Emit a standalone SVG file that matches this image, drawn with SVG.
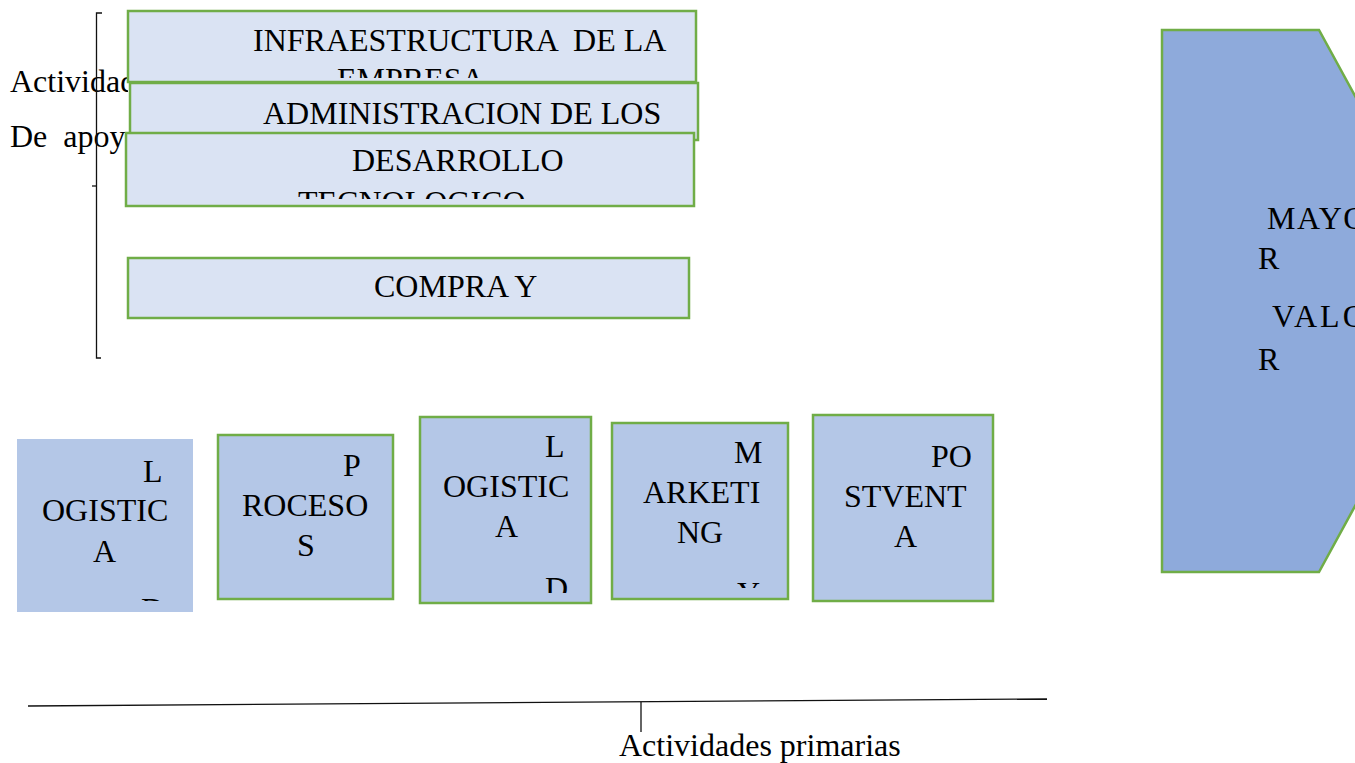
<svg xmlns="http://www.w3.org/2000/svg" width="1355" height="763" viewBox="0 0 1355 763">
<defs>
<style>
text{font-family:"Liberation Serif","Times New Roman",serif;font-size:32px;fill:#000;white-space:pre}
.sup{fill:#dae3f3;stroke:#70ad47;stroke-width:2.5}
.pri{fill:#b4c7e7;stroke:#70ad47;stroke-width:2.5}
.ln{stroke:#111;stroke-width:1.3;fill:none}
</style>
<clipPath id="cAct" clipPathUnits="userSpaceOnUse"><rect x="0" y="60" width="128" height="100"/></clipPath>
<clipPath id="c1" clipPathUnits="userSpaceOnUse"><rect x="128" y="11" width="568" height="67"/></clipPath>
<clipPath id="c3" clipPathUnits="userSpaceOnUse"><rect x="126" y="133" width="568" height="66"/></clipPath>
<clipPath id="cA" clipPathUnits="userSpaceOnUse"><rect x="17" y="439" width="176" height="162"/></clipPath>
<clipPath id="cC" clipPathUnits="userSpaceOnUse"><rect x="420" y="417" width="170" height="176"/></clipPath>
<clipPath id="cD" clipPathUnits="userSpaceOnUse"><rect x="612" y="423" width="176" height="165"/></clipPath>
</defs>
<rect x="0" y="0" width="1355" height="763" fill="#ffffff"/>

<g id="label-apoyo">
<text x="10" y="92" clip-path="url(#cAct)">Actividad</text>
<text x="10" y="147">De  apoy</text>
</g>

<g id="connectors">
<path class="ln" d="M102,13 H96.5 V358 H101"/>
<path class="ln" d="M96.5,186 H92"/>
<path class="ln" d="M28,706 L1047,699"/>
<path class="ln" d="M641,702 V732"/>
</g>

<g id="infraestructura">
<rect class="sup" x="128" y="11" width="568" height="71"/>
<g clip-path="url(#c1)">
<text x="253" y="51">INFRAESTRUCTURA  DE LA</text>
<text x="337" y="90">EMPRESA</text>
</g>
</g>

<g id="administracion">
<rect class="sup" x="130" y="83" width="568" height="57"/>
<text x="263" y="124">ADMINISTRACION DE LOS</text>
</g>

<g id="desarrollo">
<rect class="sup" x="126" y="133" width="568" height="73"/>
<g clip-path="url(#c3)">
<text x="352" y="171">DESARROLLO</text>
<text x="298" y="213">TECNOLOGICO</text>
</g>
</g>

<g id="compra">
<rect class="sup" x="128" y="258" width="561" height="60"/>
<text x="374" y="297">COMPRA Y</text>
</g>

<g id="logistica-entrada">
<rect x="17" y="439" width="176" height="173" fill="#b4c7e7"/>
<g clip-path="url(#cA)">
<text x="143" y="482">L</text>
<text x="42" y="521">OGISTIC</text>
<text x="93" y="562">A</text>
<text x="141" y="620" fill="#666">D</text>
</g>
</g>

<g id="procesos">
<rect class="pri" x="218" y="435" width="175" height="164"/>
<text x="343" y="476">P</text>
<text x="242" y="516">ROCESO</text>
<text x="297" y="556">S</text>
</g>

<g id="logistica-salida">
<rect class="pri" x="420" y="417" width="171" height="186"/>
<g clip-path="url(#cC)">
<text x="545" y="457">L</text>
<text x="443" y="497">OGISTIC</text>
<text x="495" y="537">A</text>
<text x="545" y="599">D</text>
</g>
</g>

<g id="marketing">
<rect class="pri" x="612" y="423" width="176" height="176"/>
<g clip-path="url(#cD)">
<text x="734" y="463">M</text>
<text x="643" y="503">ARKETI</text>
<text x="677" y="543">NG</text>
<text x="737" y="604">Y</text>
</g>
</g>

<g id="postventa">
<rect class="pri" x="813" y="415" width="180" height="186"/>
<text x="931" y="467">PO</text>
<text x="844" y="507">STVENT</text>
<text x="894" y="547">A</text>
</g>

<g id="mayor-valor">
<polygon points="1162,30 1319,30 1467,301 1319,572 1162,572" fill="#8eaadb" stroke="#70ad47" stroke-width="2.5"/>
<text x="1267" y="229" letter-spacing="1.5">MAYO</text>
<text x="1258" y="269">R</text>
<text x="1272" y="327" letter-spacing="3">VALO</text>
<text x="1258" y="370">R</text>
</g>

<g id="label-primarias">
<text x="619" y="756">Actividades primarias</text>
</g>
</svg>
